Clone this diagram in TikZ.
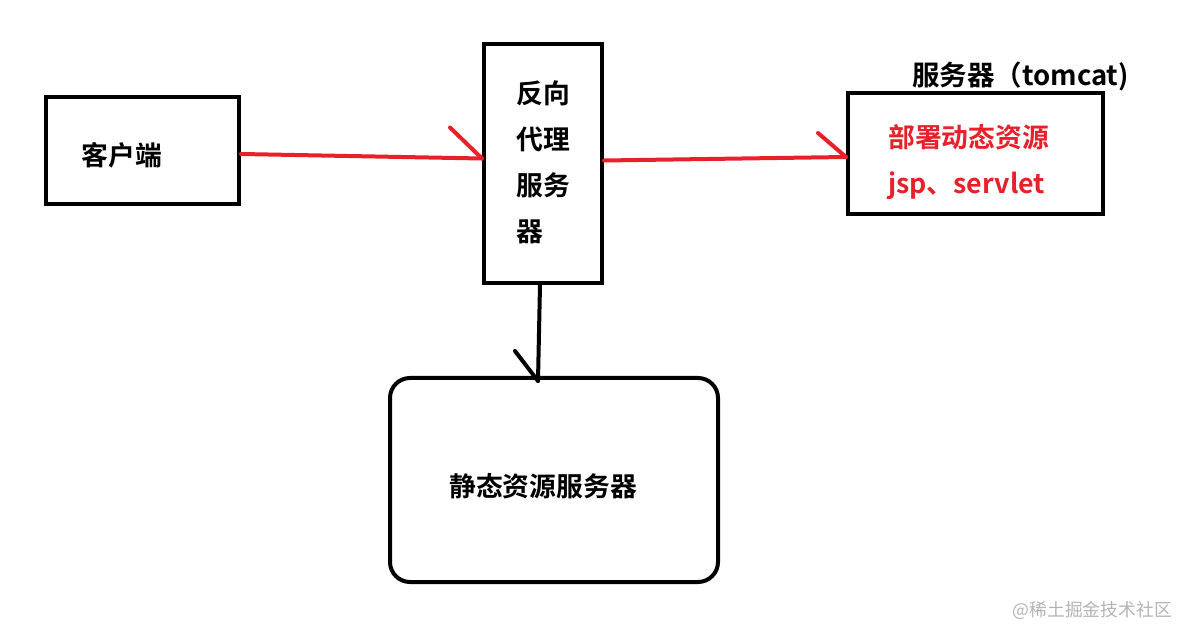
\documentclass[tikz,border=0pt]{standalone}
\usepackage{fontspec}
\setmainfont{Noto Sans CJK SC}[BoldFont={Noto Sans CJK SC Bold}]
\usetikzlibrary{calc}
\definecolor{lred}{HTML}{E8202A}
\definecolor{wm}{HTML}{B4B4B4}
\begin{document}
\begin{tikzpicture}[x=1pt,y=-1pt,
  box/.style={draw=black,line width=4pt,inner sep=0pt},
  lbl/.style={font=\fontsize{26.8}{46}\selectfont\bfseries,inner sep=0pt},
  redline/.style={draw=lred,line width=4pt,line cap=round},
  blkline/.style={draw=black,line width=4pt,line cap=round}]
\useasboundingbox (0,0) rectangle (1179,628);
\fill[white] (0,0) rectangle (1179,628);
% boxes
\node[box,minimum width=193pt,minimum height=107pt] (client) at (142.5,150.5) {};
\node[lbl] (clientt) at (122,155) {客户端};
\node[box,minimum width=118pt,minimum height=239pt] (proxy) at (543,163.5) {};
\node[lbl,align=left] (proxyt) at (543,162) {反向\\代理\\服务\\器};
\node[box,minimum width=255pt,minimum height=121pt] (tomcat) at (975.5,153.5) {};
\node[lbl,anchor=west,font=\fontsize{27.5}{46}\selectfont\bfseries] (tomcatt) at (912,76) {服务器（tomcat)};
\node[lbl,text=lred,align=left,anchor=west] (dyn) at (888,162.5) {部署动态资源\\jsp、servlet};
\node[box,rounded corners=20pt,minimum width=328pt,minimum height=204pt] (static) at (554,480) {};
\node[lbl] (statict) at (543,486) {静态资源服务器};
% connectors
\coordinate (e1) at ($(proxy.west)+(0,-5)$);
\coordinate (e2) at ($(tomcat.west)+(0,3.5)$);
\coordinate (s2) at ($(proxy.east)+(0,-3)$);
\coordinate (e3) at ($(static.north)+(-16,5)$);
\coordinate (s3) at ($(proxy.south)+(-3,0)$);
\draw[redline] ($(client.east)+(0,3.5)$) -- (e1);
\draw[redline] (e1) -- ++(-32,-31);
\draw[redline] (s2) -- (e2);
\draw[redline] (e2) -- ++(-28,-24);
\draw[blkline] (s3) -- (e3);
\draw[blkline] (e3) -- ++(-23,-30);
% watermark
\node[font=\fontsize{17.8}{20}\selectfont,text=wm,anchor=east,inner sep=0pt] (wmark) at (1172,610) {@稀土掘金技术社区};
\end{tikzpicture}
\end{document}
